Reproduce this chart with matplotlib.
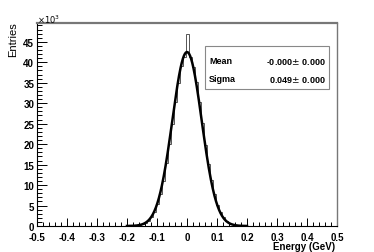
import numpy as np
import matplotlib
matplotlib.use('Agg')
import matplotlib.pyplot as plt
from matplotlib.ticker import MultipleLocator

# histogram contents (x10^3 entries), bins of width 0.01 centred on -0.20 ... 0.20
bin_centers = [round(-0.20 + 0.01 * i, 2) for i in range(41)]
counts = [0.01, 0.02, 0.05, 0.10, 0.21, 0.40, 0.70, 1.26, 2.12, 3.38,
          5.30, 7.85, 11.1, 15.3, 20.1, 25.0, 30.4, 35.0, 39.0, 41.2,
          47.0,
          41.3, 38.8, 35.2, 30.2, 25.2, 19.9, 15.2, 11.2, 7.80, 5.25,
          3.40, 2.10, 1.24, 0.72, 0.39, 0.20, 0.10, 0.05, 0.02, 0.01]

# fit result
fit_amp = 42.5
fit_mean = 0.0
fit_sigma = 0.049

plt.rcParams['font.family'] = ['Liberation Sans', 'DejaVu Sans']

fig = plt.figure(figsize=(3.74, 2.53), dpi=100)
ax = fig.add_axes([37/374, 1 - 227/253, 300/374, 203/253])

edges = np.append(np.array(bin_centers) - 0.005, bin_centers[-1] + 0.005)
ax.stairs(counts, edges, color='#555555', lw=0.7)

xf = np.linspace(-0.2, 0.2, 400)
ax.plot(xf, fit_amp * np.exp(-0.5 * ((xf - fit_mean) / fit_sigma) ** 2), color='black', lw=1.8)

ax.set_xlim(-0.5, 0.5)
ax.set_ylim(0, 49.6)
ax.xaxis.set_minor_locator(MultipleLocator(0.02))
ax.yaxis.set_major_locator(MultipleLocator(5))
ax.yaxis.set_minor_locator(MultipleLocator(1))
xt = np.arange(-0.5, 0.51, 0.1)
ax.set_xticks(xt)
ax.set_xticklabels(['0' if abs(v) < 1e-9 else '%g' % round(v, 1) for v in xt])
ax.tick_params(which='both', direction='in', top=False, right=False, labelsize=7, width=0.7)
ax.tick_params(axis='y', which='major', length=7)
ax.tick_params(axis='y', which='minor', length=3.5)
ax.tick_params(axis='x', which='major', length=6)
ax.tick_params(axis='x', which='minor', length=3)
ax.tick_params(axis='x', pad=4)
ax.tick_params(axis='y', pad=2)
for lab in ax.get_xticklabels() + ax.get_yticklabels():
    lab.set_fontweight('bold')

ax.spines['left'].set_linewidth(0.8)
ax.spines['bottom'].set_linewidth(0.8)
ax.spines['top'].set_color('#777777')
ax.spines['top'].set_linewidth(1.6)
ax.spines['right'].set_color('#777777')
ax.spines['right'].set_linewidth(1.0)

fig.text(335/374, 1 - 247/253, 'Energy (GeV)', ha='right', va='center', fontsize=7, fontweight='bold')
fig.text(13/374, 1 - 22/253, 'Entries', ha='center', va='top', rotation=90, fontsize=8)
fig.text(37/374, 1 - 20/253, r'$\times10^{3}$', ha='left', va='center', fontsize=6)

# stats box
bx0, by0, bx1, by1 = 205, 47, 329, 90
box = plt.Rectangle((bx0/374, 1 - by1/253), (bx1 - bx0)/374, (by1 - by0)/253,
                    transform=fig.transFigure, fill=True, facecolor='white',
                    edgecolor='#888888', lw=0.8)
fig.patches.append(box)
fig.text(209/374, 1 - 62/253, 'Mean', ha='left', va='center', fontsize=6.5, fontweight='bold')
fig.text(326/374, 1 - 62/253, '-0.000$\\pm$ 0.000', ha='right', va='center', fontsize=6.5, fontweight='bold')
fig.text(209/374, 1 - 80/253, 'Sigma', ha='left', va='center', fontsize=6.5, fontweight='bold')
fig.text(326/374, 1 - 80/253, '0.049$\\pm$ 0.000', ha='right', va='center', fontsize=6.5, fontweight='bold')

fig.savefig('out.png', dpi=100)
